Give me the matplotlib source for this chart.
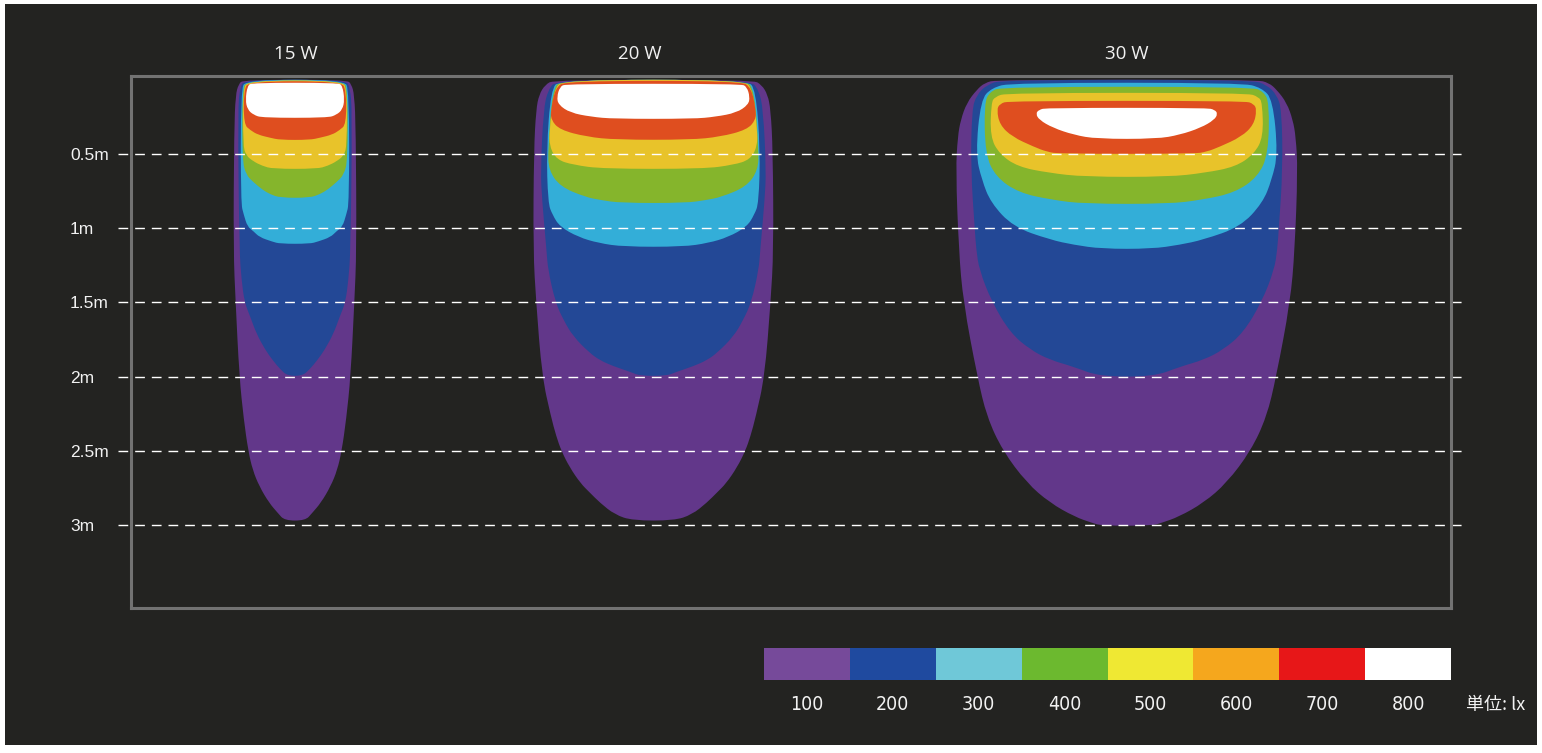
import numpy as np
import matplotlib.pyplot as plt
from matplotlib.patches import Rectangle, PathPatch
from matplotlib.path import Path
from matplotlib import font_manager
from matplotlib.font_manager import FontProperties

# three lamps, centre of each light pattern along the wall (m)
names = ['15 W', '20 W', '30 W']
centers = [1.105, 3.52, 6.71]
title_x = [1.11, 3.43, 6.71]
depth_ticks = [0.5, 1.0, 1.5, 2.0, 2.5, 3.0]
depth_labels = ['0.5m', '1m', '1.5m', '2m', '2.5m', '3m']

# legend
lux = [100, 200, 300, 400, 500, 600, 700, 800]
lux_colors = ['#764a9a', '#1f4a9f', '#6fc8d8', '#6cb92f',
              '#efe833', '#f5a71d', '#e71718', '#ffffff']
# colours used inside the patterns (outer level first)
shape_colors = ['#62378a', '#234896', '#33aed8', '#85b52c',
                '#e8c32a', '#df4e1f', '#ffffff']

# isolux contours: depth (m) and half width (m)
# ---- 15 W
p15_d = [0, 0.03, 0.10, 0.34, 1.15, 1.50, 2.00, 2.29, 2.50, 2.63, 2.74, 2.85, 2.92, 2.97]
p15_w = [0.35, 0.38, 0.40, 0.41, 0.415, 0.40, 0.375, 0.345, 0.315, 0.285, 0.24, 0.175, 0.115, 0.07]
b15_d = [0, 0.05, 0.20, 1.15, 1.35, 1.50, 1.60, 1.71, 1.82, 1.89, 1.95, 1.995]
b15_w = [0.34, 0.37, 0.385, 0.375, 0.36, 0.34, 0.30, 0.26, 0.20, 0.15, 0.10, 0.05]
c15_d = [0, 0.07, 0.83, 0.91, 0.99, 1.02, 1.06, 1.09, 1.105]
c15_w = [0.33, 0.365, 0.365, 0.345, 0.32, 0.28, 0.24, 0.155, 0.10]
g15_d = [0.005, 0.07, 0.54, 0.64, 0.69, 0.74, 0.77, 0.795]
g15_w = [0.325, 0.355, 0.355, 0.33, 0.28, 0.22, 0.17, 0.10]
y15_d = [0.005, 0.07, 0.44, 0.51, 0.55, 0.58, 0.60]
y15_w = [0.32, 0.35, 0.35, 0.33, 0.28, 0.22, 0.15]
o15_d = [0.01, 0.07, 0.30, 0.34, 0.37, 0.39, 0.405]
o15_w = [0.31, 0.345, 0.345, 0.30, 0.25, 0.17, 0.10]
w15_d = [0.02, 0.04, 0.135, 0.20, 0.236, 0.256]
w15_w = [0.29, 0.32, 0.334, 0.32, 0.28, 0.22]
# ---- 20 W
p20_d = [0, 0.034, 0.10, 0.20, 0.47, 1.15, 1.50, 2.00, 2.27, 2.40, 2.50, 2.61, 2.72, 2.78, 2.85, 2.93, 2.97]
p20_w = [0.67, 0.73, 0.77, 0.79, 0.805, 0.81, 0.79, 0.75, 0.69, 0.655, 0.62, 0.565, 0.49, 0.43, 0.36, 0.26, 0.14]
b20_d = [0, 0.067, 0.20, 0.61, 0.81, 1.15, 1.28, 1.50, 1.62, 1.73, 1.84, 1.89, 1.93, 1.97, 1.995]
b20_w = [0.65, 0.71, 0.74, 0.76, 0.75, 0.72, 0.71, 0.66, 0.605, 0.54, 0.43, 0.36, 0.27, 0.15, 0.09]
c20_d = [0, 0.067, 0.47, 0.83, 0.91, 0.99, 1.06, 1.10, 1.125]
c20_w = [0.63, 0.69, 0.72, 0.71, 0.68, 0.63, 0.505, 0.37, 0.20]
g20_d = [0, 0.067, 0.47, 0.61, 0.72, 0.79, 0.81, 0.83]
g20_w = [0.62, 0.68, 0.71, 0.705, 0.627, 0.458, 0.357, 0.22]
y20_d = [0, 0.067, 0.337, 0.451, 0.539, 0.573, 0.60]
y20_w = [0.61, 0.67, 0.70, 0.70, 0.65, 0.54, 0.34]
o20_d = [0.007, 0.054, 0.20, 0.27, 0.337, 0.384, 0.404]
o20_w = [0.59, 0.66, 0.69, 0.69, 0.63, 0.45, 0.25]
w20_d = [0.027, 0.047, 0.115, 0.168, 0.222, 0.249, 0.263]
w20_w = [0.59, 0.63, 0.65, 0.64, 0.56, 0.42, 0.27]
# ---- 30 W
p30_d = [0, 0.02, 0.067, 0.155, 0.27, 0.384, 0.606, 1.146, 1.496, 2.001, 2.271, 2.50, 2.716, 2.85, 2.945, 2.985, 3.005]
p30_w = [0.876, 0.957, 1.011, 1.078, 1.119, 1.139, 1.152, 1.132, 1.102, 1.007, 0.943, 0.836, 0.674, 0.519, 0.350, 0.236, 0.168]
b30_d = [0, 0.034, 0.101, 0.202, 0.606, 1.011, 1.146, 1.28, 1.496, 1.705, 1.819, 1.887, 1.934, 2.00]
b30_w = [0.842, 0.943, 1.011, 1.044, 1.051, 1.024, 1.014, 0.994, 0.910, 0.785, 0.650, 0.519, 0.357, 0.182]
c30_d = [0.02, 0.054, 0.135, 0.499, 0.674, 0.829, 0.991, 1.078, 1.112, 1.139]
c30_w = [0.775, 0.910, 0.984, 1.018, 0.977, 0.916, 0.765, 0.515, 0.357, 0.168]
g30_d = [0.047, 0.081, 0.155, 0.499, 0.654, 0.761, 0.809, 0.836]
g30_w = [0.842, 0.923, 0.960, 0.954, 0.883, 0.728, 0.505, 0.283]
y30_d = [0.088, 0.115, 0.155, 0.384, 0.499, 0.586, 0.627, 0.654]
y30_w = [0.809, 0.889, 0.913, 0.920, 0.859, 0.734, 0.526, 0.283]
o30_d = [0.142, 0.162, 0.202, 0.303, 0.384, 0.451, 0.485, 0.499]
o30_w = [0.795, 0.856, 0.876, 0.856, 0.772, 0.627, 0.539, 0.451]
w30_d = [0.189, 0.202, 0.229, 0.27, 0.323, 0.371, 0.398]
w30_w = [0.539, 0.593, 0.613, 0.590, 0.499, 0.357, 0.202]

lamps = [
    [(p15_d, p15_w), (b15_d, b15_w), (c15_d, c15_w), (g15_d, g15_w),
     (y15_d, y15_w), (o15_d, o15_w), (w15_d, w15_w)],
    [(p20_d, p20_w), (b20_d, b20_w), (c20_d, c20_w), (g20_d, g20_w),
     (y20_d, y20_w), (o20_d, o20_w), (w20_d, w20_w)],
    [(p30_d, p30_w), (b30_d, b30_w), (c30_d, c30_w), (g30_d, g30_w),
     (y30_d, y30_w), (o30_d, o30_w), (w30_d, w30_w)],
]


def contour_patch(cx, d, hw, color):
    # closed outline (left side down, right side up) drawn as a smooth quadratic curve
    d = np.asarray(d, float)
    hw = np.asarray(hw, float)
    pts = np.column_stack([np.concatenate([cx - hw, (cx + hw)[::-1]]),
                           np.concatenate([d, d[::-1]])])
    n = len(pts)
    verts = [(pts[-1] + pts[0]) / 2]
    codes = [Path.MOVETO]
    for k in range(n):
        verts += [pts[k], (pts[k] + pts[(k + 1) % n]) / 2]
        codes += [Path.CURVE3, Path.CURVE3]
    verts.append(verts[0])
    codes.append(Path.CLOSEPOLY)
    return PathPatch(Path(verts, codes), facecolor=color, edgecolor='none', zorder=2)


def narrow_font():
    try:
        font_manager.findfont(FontProperties(family='Liberation Sans Narrow'),
                              fallback_to_default=False)
        return {'family': ['Liberation Sans Narrow', 'DejaVu Sans']}
    except ValueError:
        pass
    f = font_manager.findfont(FontProperties(family='DejaVu Sans', stretch='condensed'))
    if 'Condensed' in f:
        return {'family': 'DejaVu Sans', 'stretch': 'condensed'}
    return {'family': ['Liberation Sans', 'DejaVu Sans']}


W, H = 1542, 753
fig = plt.figure(figsize=(W / 100, H / 100), dpi=100, facecolor='white')
# dark board
fig.add_artist(Rectangle((5 / W, 8 / H), 1532 / W, 741 / H, transform=fig.transFigure,
                         facecolor='#232321', edgecolor='none', zorder=-10))

px = 148.4  # pixels per metre
ax = fig.add_axes([131 / W, 1 - 608 / H, 1320 / W, 532 / H])
ax.set_facecolor('none')
ax.set_xlim(0, 1320 / px)
ax.set_ylim((608 - 79.8) / px, (76 - 79.8) / px)

for cx, levels in zip(centers, lamps):
    for (d, hw), col in zip(levels, shape_colors):
        ax.add_patch(contour_patch(cx, d, hw, col))

for y in depth_ticks:
    ax.axhline(y, xmin=-0.0099, xmax=1.0106, color='white', lw=1.0,
               dashes=(7, 5), clip_on=False, zorder=3)

for s in ax.spines.values():
    s.set_color('#727272')
    s.set_linewidth(2.2)
    s.set_zorder(4)
ax.set_xticks([])
ax.set_yticks(depth_ticks)
ax.set_yticklabels(depth_labels)
ax.tick_params(axis='y', length=0, pad=44, labelsize=12.5, labelcolor='#f2f2f2')
for t in ax.get_yticklabels():
    t.set_horizontalalignment('left')
    t.set_fontfamily(['Liberation Sans', 'DejaVu Sans'])

for name, tx in zip(names, title_x):
    ax.text(tx, (54 - 79.8) / px, name, ha='center', va='center', color='#f2f2f2',
            fontsize=13.5, family=['Open Sans', 'DejaVu Sans'], clip_on=False)

# legend strip
nf = narrow_font()
lax = fig.add_axes([764 / W, 1 - 680 / H, 687 / W, 32 / H])
lax.bar(np.arange(len(lux)), 1, width=1, align='edge', color=lux_colors, lw=0)
lax.set_xlim(0, len(lux))
lax.set_ylim(0, 1)
lax.axis('off')
for i, v in enumerate(lux):
    lax.text(i + 0.5, -0.78, str(v), ha='center', va='center', color='#f2f2f2',
             fontsize=14, clip_on=False, **nf)
lax.text(8.17, -0.78, '単位: lx', ha='left', va='center', color='#f2f2f2',
         fontsize=13, family=['Noto Sans CJK JP', 'DejaVu Sans'], clip_on=False)

fig.savefig('out.png', dpi=100, facecolor='white')
